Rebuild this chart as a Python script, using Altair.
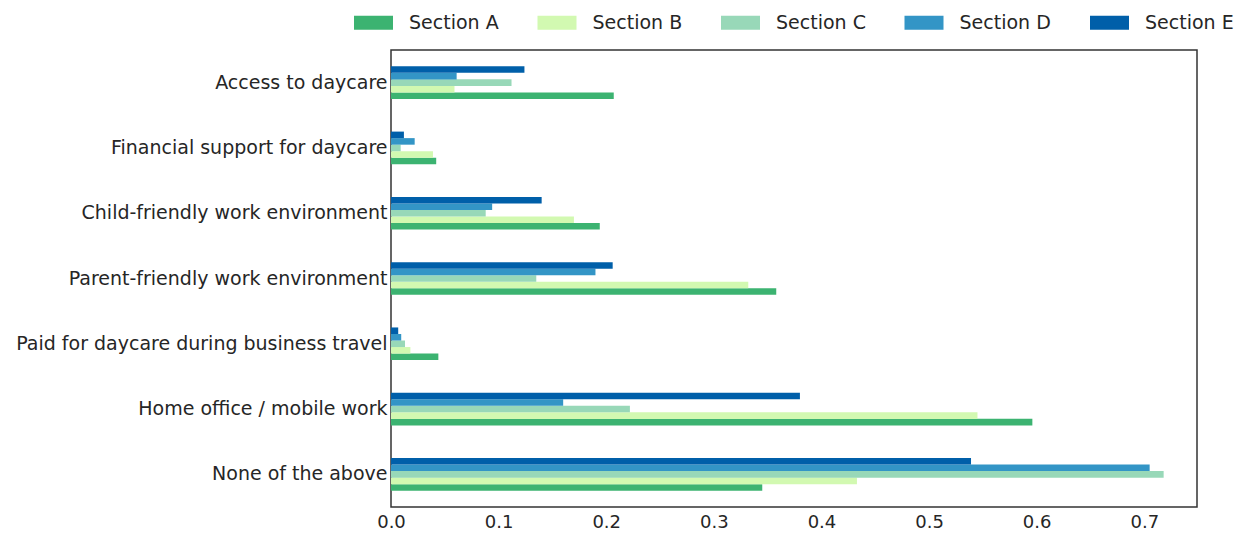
import altair as alt
import pandas as pd

categories = [
    "Access to daycare",
    "Financial support for daycare",
    "Child-friendly work environment",
    "Parent-friendly work environment",
    "Paid for daycare during business travel",
    "Home office / mobile work",
    "None of the above",
]
sections = ["Section A", "Section B", "Section C", "Section D", "Section E"]
section_a = [0.207, 0.042, 0.194, 0.358, 0.044, 0.596, 0.345]
section_b = [0.059, 0.039, 0.170, 0.332, 0.018, 0.545, 0.433]
section_c = [0.112, 0.009, 0.088, 0.135, 0.013, 0.222, 0.718]
section_d = [0.061, 0.022, 0.094, 0.190, 0.0095, 0.160, 0.705]
section_e = [0.124, 0.012, 0.140, 0.206, 0.0067, 0.380, 0.539]
colors = ["#3cb371", "#d2f9b1", "#98d8b8", "#3395c6", "#005fa9"]
x_ticks = [0.0, 0.1, 0.2, 0.3, 0.4, 0.5, 0.6, 0.7]

series = [section_a, section_b, section_c, section_d, section_e]
rows = []
for s, vals in zip(sections, series):
    for c, v in zip(categories, vals):
        rows.append({"category": c, "section": s, "value": v})
df = pd.DataFrame(rows)

FONT = "DejaVu Sans"
rect_path = "M-1,-0.36L1,-0.36L1,0.36L-1,0.36Z"

chart = (
    alt.Chart(df)
    .mark_bar(size=6.55)
    .encode(
        y=alt.Y(
            "category:N",
            sort=categories,
            scale=alt.Scale(paddingInner=0.5, paddingOuter=0.25),
            axis=alt.Axis(
                title=None,
                ticks=False,
                domain=False,
                labelFontSize=19,
                labelFont=FONT,
                labelColor="#262626",
                labelPadding=4,
                labelLimit=500,
            ),
        ),
        yOffset=alt.YOffset("section:N", sort=list(reversed(sections))),
        x=alt.X(
            "value:Q",
            scale=alt.Scale(domain=[0, 0.749], nice=False),
            axis=alt.Axis(
                title=None,
                values=x_ticks,
                format=".1f",
                ticks=False,
                domain=False,
                grid=False,
                labelFontSize=18,
                labelFont=FONT,
                labelColor="#262626",
                labelPadding=6,
                labelFlush=False,
            ),
        ),
        color=alt.Color(
            "section:N",
            sort=sections,
            scale=alt.Scale(domain=sections, range=colors),
            legend=alt.Legend(
                title=None,
                orient="none",
                legendX=-37,
                legendY=-47,
                direction="horizontal",
                columns=5,
                symbolType=rect_path,
                symbolSize=1521,
                symbolStrokeWidth=0,
                symbolOpacity=1,
                labelOffset=16,
                columnPadding=38.5,
                labelFontSize=19,
                labelFont=FONT,
                labelColor="#262626",
            ),
        ),
    )
    .properties(
        width=806,
        height=457,
        background="white",
        autosize=alt.AutoSizeParams(type="none"),
        padding={"left": 383, "top": 42, "right": 40, "bottom": 24},
    )
    .configure_view(stroke="#333333", strokeWidth=1.5)
)

chart.save("out.html", embed_options={"renderer": "svg", "actions": False})
